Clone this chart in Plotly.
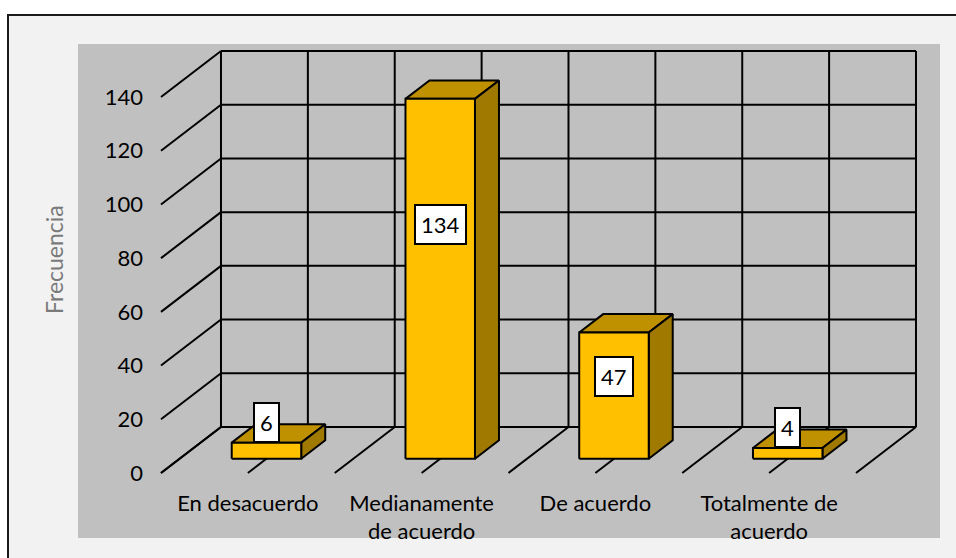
import plotly.graph_objects as go

# ---- data ----
categories = ["En desacuerdo", "Medianamente<br>de acuerdo", "De acuerdo", "Totalmente de<br>acuerdo"]
frequencies = [6, 134, 47, 4]
y_ticks = [0, 20, 40, 60, 80, 100, 120, 140]
y_title = "Frecuencia"

# ---- oblique 3D projection (in axis units) ----
DEPTH_X = 0.3453      # horizontal shift of the back plane, in category units
DEPTH_Y = 17.13       # vertical shift of the back plane, in value units
BAR_W = 0.40          # bar width (category units)
F0, F1 = 0.31, 0.71   # front / back depth fractions of each bar
N = len(categories)
Y_MAX = y_ticks[-1]

FONT = "Lato"
FRONT = "#ffc000"
TOP = "#bf9000"
SIDE = "#a07a00"

fig = go.Figure()

# grid: back wall, left wall and floor
gx, gy = [], []
for v in y_ticks:
    gx += [DEPTH_X, N + DEPTH_X, None]
    gy += [v + DEPTH_Y, v + DEPTH_Y, None]
    gx += [0, DEPTH_X, None]
    gy += [v, v + DEPTH_Y, None]
for k in range(2 * N + 1):
    c = k / 2
    gx += [c + DEPTH_X, c + DEPTH_X, None]
    gy += [DEPTH_Y, Y_MAX + DEPTH_Y, None]
    gx += [c, c + DEPTH_X, None]
    gy += [0, DEPTH_Y, None]
fig.add_trace(go.Scatter(x=gx, y=gy, mode="lines",
                         line=dict(color="black", width=2),
                         hoverinfo="skip", showlegend=False))


def face(xs, ys, color):
    fig.add_trace(go.Scatter(
        x=xs + xs[:1], y=ys + ys[:1], mode="lines", fill="toself", fillcolor=color,
        line=dict(color="black", width=2), hoverinfo="skip", showlegend=False))


# bars: top, side and front faces
dx = (F1 - F0) * DEPTH_X
dy = (F1 - F0) * DEPTH_Y
for i, v in enumerate(frequencies):
    cx = i + 0.5 + F0 * DEPTH_X
    x0, x1 = cx - BAR_W / 2, cx + BAR_W / 2
    y0, y1 = F0 * DEPTH_Y, v + F0 * DEPTH_Y
    face([x0, x1, x1 + dx, x0 + dx], [y1, y1, y1 + dy, y1 + dy], TOP)
    face([x1, x1 + dx, x1 + dx, x1], [y0, y0 + dy, y1 + dy, y1], SIDE)
    face([x0, x1, x1, x0], [y0, y0, y1, y1], FRONT)

# value labels
for i, v in enumerate(frequencies):
    cx = i + 0.5 + F0 * DEPTH_X
    inside = v >= 20
    fig.add_annotation(
        x=cx, y=(0.65 * v if inside else v) + F0 * DEPTH_Y,
        xref="x", yref="y", text=str(v), showarrow=False,
        xanchor="center", yanchor="middle" if inside else "bottom",
        font=dict(family=FONT, size=22, color="black"),
        bgcolor="white", bordercolor="black", borderwidth=2, borderpad=5)

L, R, T, B = 78, 16, 44, 20
W, H = 956, 558
pw, ph = W - L - R, H - T - B

# y title
fig.add_annotation(x=(54 - L) / pw, y=(H - B - 260) / ph, xref="paper", yref="paper",
                   text=y_title, textangle=-90, showarrow=False,
                   xanchor="center", yanchor="middle",
                   font=dict(family=FONT, size=23, color="#7a7a7a"))

# chart frame and plot background
fig.add_shape(type="rect", xref="paper", yref="paper",
              x0=(8 - L) / pw, x1=(W + 10 - L) / pw,
              y0=-(H + 10 - (H - B)) / ph, y1=(H - B - 15) / ph,
              fillcolor="#f2f2f2", line=dict(color="#1a1a1a", width=2), layer="below")
fig.add_shape(type="rect", xref="paper", yref="paper", x0=0, x1=1, y0=0, y1=1,
              fillcolor="#c0c0c0", line=dict(width=0), layer="below")

fig.update_layout(
    width=W, height=H, margin=dict(l=L, r=R, t=T, b=B),
    paper_bgcolor="white", plot_bgcolor="rgba(0,0,0,0)",
    font=dict(family=FONT, size=22, color="black"),
    xaxis=dict(range=[-0.4777, 4.4835], showgrid=False, zeroline=False, showline=False,
               tickmode="array", tickvals=[i + 0.5 for i in range(N)], ticktext=categories,
               ticks="", anchor="free", position=0.102, fixedrange=True),
    yaxis=dict(range=[-24.2, 159.73], showgrid=False, zeroline=False, showline=False,
               tickmode="array", tickvals=y_ticks, ticks="",
               anchor="free", position=0.0754, fixedrange=True),
    showlegend=False,
)

fig.write_html("out.html")
